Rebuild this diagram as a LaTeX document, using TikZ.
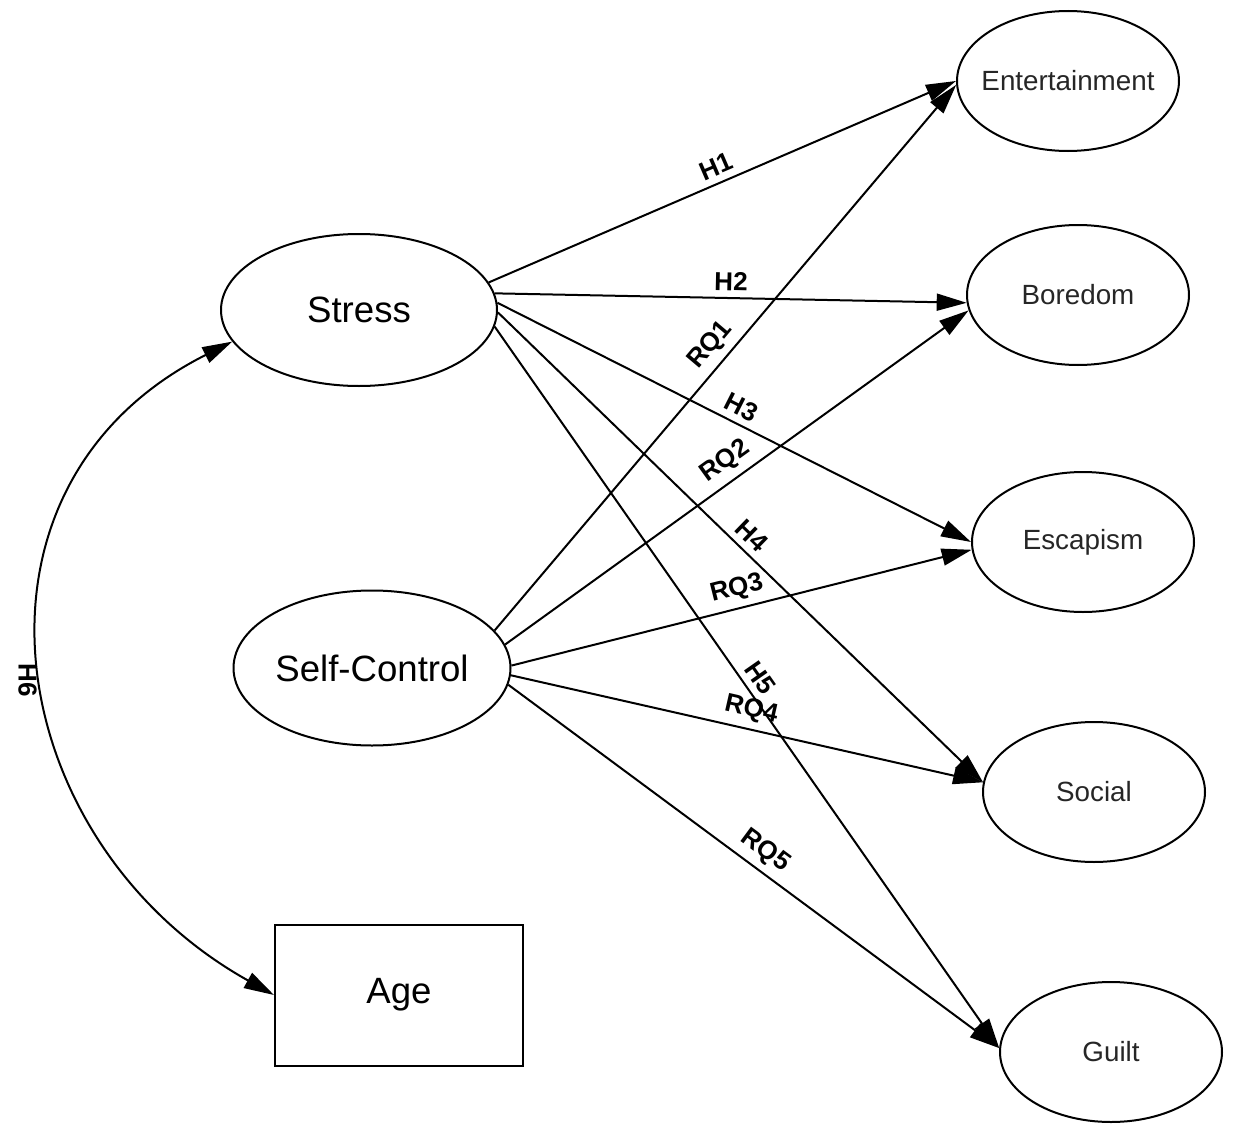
\documentclass[tikz,border=0pt]{standalone}
\usepackage{fontspec}
\setmainfont{Liberation Sans}
\usepackage{tikz}
\usetikzlibrary{shapes.geometric,arrows.meta,positioning}
\tikzset{>={Triangle[length=15pt,width=8.5pt]}}

\begin{document}
\begin{tikzpicture}[x=0.5pt, y=-0.5pt,
                    factor/.style={ellipse, draw, line width=1pt, inner sep=0pt, minimum width=138pt, minimum height=76pt, font=\fontsize{18.3}{22}\selectfont},
                    observed/.style={rectangle, draw, line width=1pt, minimum width=124pt, minimum height=70.5pt, font=\fontsize{18.3}{22}\selectfont},
                    motive/.style={ellipse, draw, line width=1pt, inner sep=0pt, minimum width=111pt, minimum height=70pt, font=\fontsize{13.9}{17}\selectfont, text=black!85},
                    effect/.style={line width=1pt, ->},
                    hyp/.style={font=\bfseries\fontsize{13}{15}\selectfont, sloped, above},
                   ]

\useasboundingbox (0,0) rectangle (1233,1124);

% predictors
\node[factor] (stress) at (359,310) {Stress};
\node[factor, minimum width=138.5pt, minimum height=77.5pt] (selfctrl) at (372,668) {Self-Control};
\node[observed] (age) at (399,995) {Age};

% motives
\node[motive] (ent) at (1068,81) {\makebox[0pt]{Entertainment}};
\node[motive] (bor) at (1078,295) {Boredom};
\node[motive] (esc) at (1083,542) {Escapism};
\node[motive] (soc) at (1094,792) {Social};
\node[motive] (guilt) at (1111,1052) {Guilt};

\draw[effect] (stress.12) -- node[hyp] {H1} (ent.180);
\draw[effect] (stress.7) -- node[hyp] {H2} (bor.184);
\draw[effect] (stress.3) -- node[hyp] {H3} (esc.180);
\draw[effect] (stress.-1) -- node[hyp] {H4} (soc.175);
\draw[effect] (stress.-7) -- node[hyp] {H5} (guilt.178);

\draw[effect] (selfctrl.17) -- node[hyp] {RQ1} (ent.182);
\draw[effect] (selfctrl.10) -- node[hyp] {RQ2} (bor.188);
\draw[effect] (selfctrl.1) -- node[hyp] {RQ3} (esc.184);
\draw[effect] (selfctrl.-3) -- node[hyp] {RQ4} (soc.175);
\draw[effect] (selfctrl.-7) -- node[hyp] {RQ5} (guilt.178);

\draw[effect, <->] (stress.194) .. controls (-55,486) and (0,842) .. node[pos=0.52, anchor=north, rotate=-90, font=\bfseries\fontsize{13}{15}\selectfont] {H6} (age.west);

\end{tikzpicture}
\end{document}
